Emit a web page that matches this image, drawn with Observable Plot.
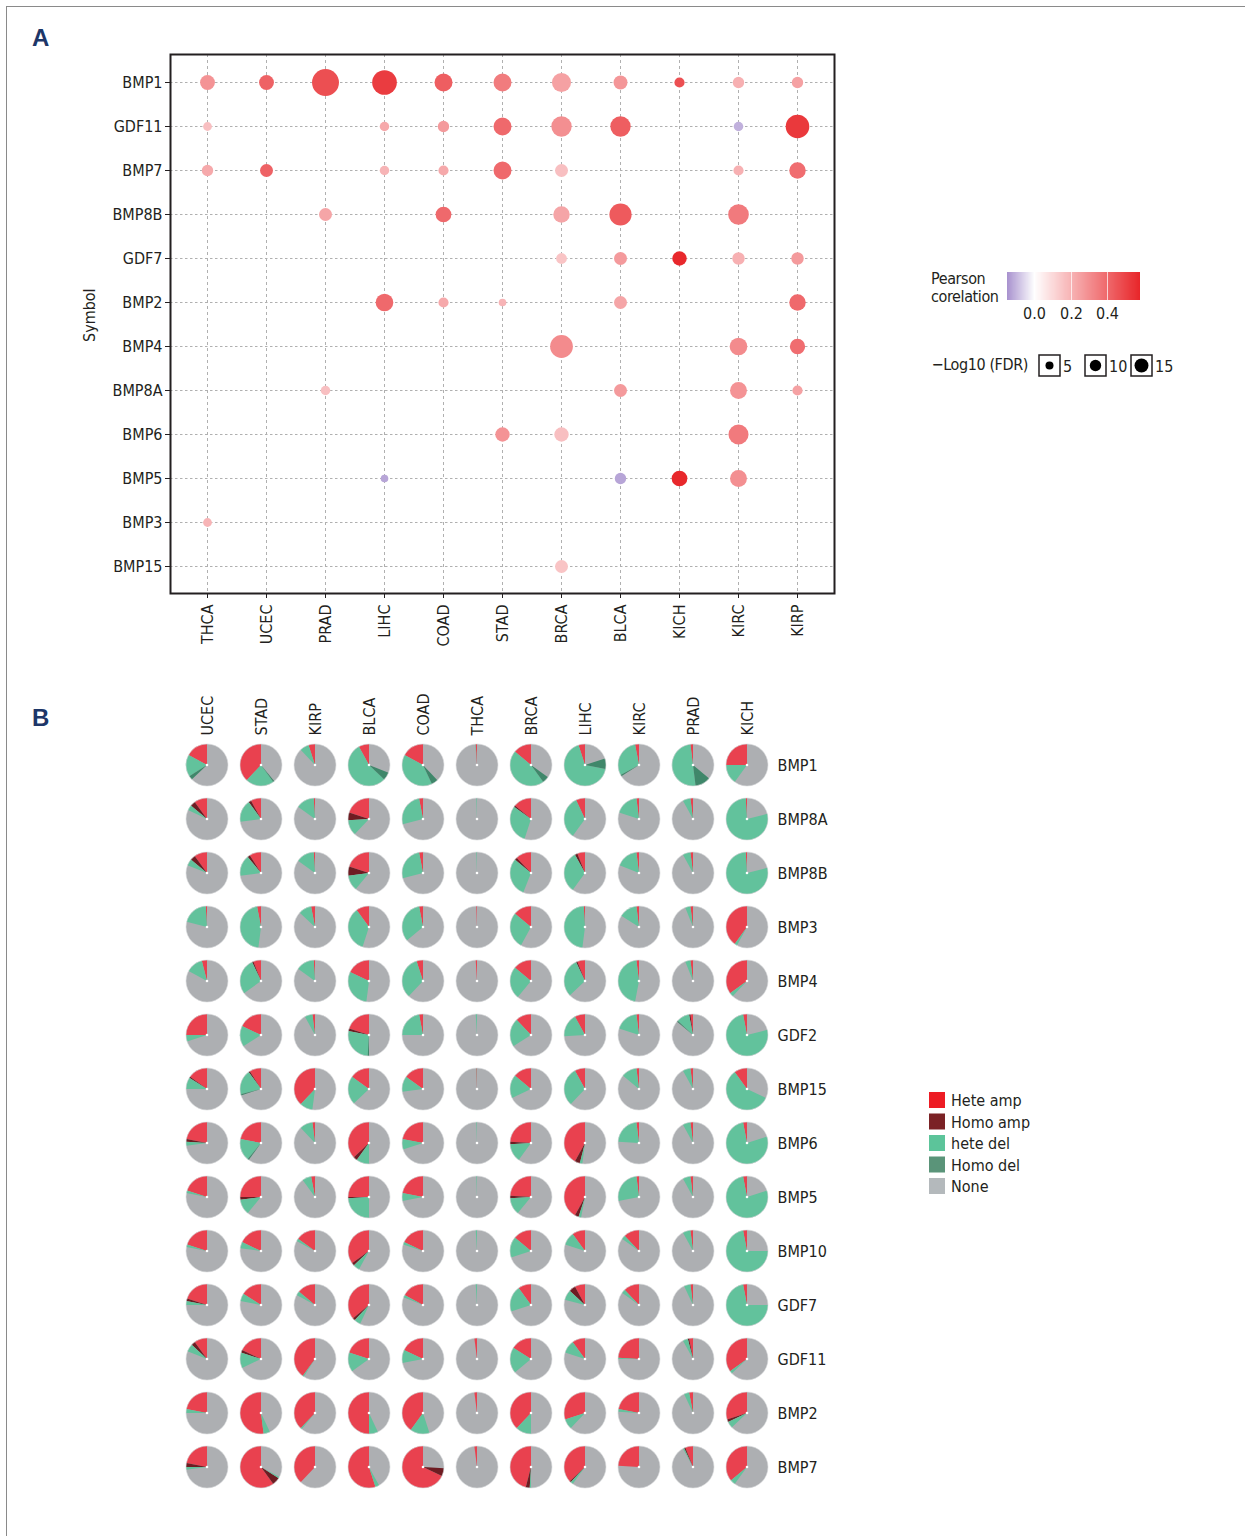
<!DOCTYPE html>
<html><head><meta charset="utf-8">
<script src="https://cdn.jsdelivr.net/npm/d3@7"></script>
<script src="https://cdn.jsdelivr.net/npm/@observablehq/plot@0.6"></script>
<style>
body{margin:0;background:#fff;}
#page{position:relative;width:1245px;height:1536px;overflow:hidden;font-family:"Liberation Sans Narrow","DejaVu Sans Condensed",sans-serif;color:#231f20;}
</style></head><body><div id="page"></div>
<script>
// ---------- Panel A data ----------
const cancersA = ["THCA","UCEC","PRAD","LIHC","COAD","STAD","BRCA","BLCA","KICH","KIRC","KIRP"];
const genesA = ["BMP1","GDF11","BMP7","BMP8B","GDF7","BMP2","BMP4","BMP8A","BMP6","BMP5","BMP3","BMP15"];
const pointGene = [
  "BMP1","BMP1","BMP1","BMP1","BMP1","BMP1","BMP1","BMP1","BMP1","BMP1","BMP1",
  "GDF11","GDF11","GDF11","GDF11","GDF11","GDF11","GDF11","GDF11",
  "BMP7","BMP7","BMP7","BMP7","BMP7","BMP7","BMP7","BMP7",
  "BMP8B","BMP8B","BMP8B","BMP8B","BMP8B",
  "GDF7","GDF7","GDF7","GDF7","GDF7",
  "BMP2","BMP2","BMP2","BMP2","BMP2",
  "BMP4","BMP4","BMP4",
  "BMP8A","BMP8A","BMP8A","BMP8A",
  "BMP6","BMP6","BMP6",
  "BMP5","BMP5","BMP5","BMP5",
  "BMP3",
  "BMP15"];
const pointCancer = [
  "THCA","UCEC","PRAD","LIHC","COAD","STAD","BRCA","BLCA","KICH","KIRC","KIRP",
  "THCA","LIHC","COAD","STAD","BRCA","BLCA","KIRC","KIRP",
  "THCA","UCEC","LIHC","COAD","STAD","BRCA","KIRC","KIRP",
  "PRAD","COAD","BRCA","BLCA","KIRC",
  "BRCA","BLCA","KICH","KIRC","KIRP",
  "LIHC","COAD","STAD","BLCA","KIRP",
  "BRCA","KIRC","KIRP",
  "PRAD","BLCA","KIRC","KIRP",
  "STAD","BRCA","KIRC",
  "LIHC","BLCA","KICH","KIRC",
  "THCA",
  "BRCA"];
const pointCor = [
  0.29,0.42,0.47,0.52,0.43,0.35,0.25,0.28,0.47,0.21,0.25,
  0.17,0.23,0.27,0.40,0.30,0.43,-0.11,0.53,
  0.23,0.42,0.20,0.23,0.40,0.17,0.21,0.39,
  0.24,0.40,0.24,0.44,0.355,
  0.157,0.27,0.575,0.21,0.27,
  0.40,0.23,0.20,0.24,0.40,
  0.31,0.31,0.39,
  0.17,0.27,0.29,0.25,
  0.29,0.17,0.355,
  -0.125,-0.125,0.575,0.30,
  0.20,
  0.157];
const pointLogFdr = [
  17,17,56,47,25,25,28,15,8,10,10,
  6,7,10,25,32,32,7,43,
  10,13,7,8,25,13,8,21,
  13,19,21,38,33,
  9,13,16,12,12,
  24,8,4.5,13,21,
  40,24,18,
  7,13,22,8,
  16,16,31,
  4.5,10,19,22,
  6,
  13];
const corTicks = [0, 0.2, 0.4];
const fdrLegendValues = [5, 10, 15];

// ---------- Panel B data ----------
const cancersB = ["UCEC","STAD","KIRP","BLCA","COAD","THCA","BRCA","LIHC","KIRC","PRAD","KICH"];
const genesB = ["BMP1","BMP8A","BMP8B","BMP3","BMP4","GDF2","BMP15","BMP6","BMP5","BMP10","GDF7","GDF11","BMP2","BMP7"];
const cnvTypes = ["Hete amp","Homo amp","hete del","Homo del","None"];
const heteAmp = [
  [0.17,0.38,0.05,0.08,0.17,0.01,0.14,0.05,0.03,0.02,0.25],
  [0.10,0.08,0.01,0.20,0.03,0,0.14,0.07,0.02,0.02,0.01],
  [0.10,0.09,0.01,0.20,0.03,0,0.12,0.06,0.02,0.02,0.01],
  [0.01,0.03,0.03,0.10,0.03,0.005,0.14,0.01,0.02,0.02,0.40],
  [0.04,0.06,0.01,0.18,0.05,0.01,0.14,0.06,0.02,0.02,0.35],
  [0.25,0.18,0.02,0.20,0.03,0,0.12,0.08,0.02,0.02,0.03],
  [0.15,0.09,0.38,0.15,0.15,0.005,0.14,0.08,0.02,0.02,0.10],
  [0.22,0.22,0.02,0.37,0.22,0,0.24,0.42,0.02,0.02,0.03],
  [0.20,0.25,0.03,0.25,0.22,0,0.24,0.42,0.02,0.02,0.03],
  [0.20,0.18,0.15,0.35,0.18,0,0.14,0.10,0.12,0.02,0.03],
  [0.20,0.16,0.14,0.36,0.17,0,0.10,0.08,0.12,0.02,0.03],
  [0.10,0.18,0.40,0.20,0.18,0.02,0.16,0.10,0.24,0.03,0.35],
  [0.22,0.52,0.38,0.50,0.40,0.02,0.38,0.30,0.22,0.03,0.30],
  [0.22,0.60,0.38,0.55,0.68,0.02,0.46,0.37,0.24,0.06,0.36]];
const homoAmp = [
  [0,0,0,0,0,0,0,0,0,0,0],
  [0.04,0.02,0,0.06,0,0,0.01,0,0,0,0],
  [0.04,0.02,0,0.07,0,0,0.02,0.02,0,0,0],
  [0,0,0,0,0,0,0,0,0,0,0],
  [0,0.01,0,0,0,0,0,0.01,0,0,0],
  [0,0,0,0.02,0,0,0,0,0,0.01,0],
  [0.01,0.01,0,0,0,0,0,0,0,0,0],
  [0.02,0,0,0.03,0,0,0.02,0.04,0,0,0],
  [0,0.02,0,0.01,0,0,0.02,0.03,0,0,0],
  [0,0,0,0.02,0,0,0,0,0,0,0],
  [0.02,0,0,0.02,0,0,0,0.05,0,0,0],
  [0.03,0.02,0,0,0,0,0,0,0,0.01,0],
  [0,0,0,0,0,0,0,0,0,0,0.02],
  [0.03,0.06,0,0,0.06,0,0.03,0.01,0,0.01,0]];
const heteDel = [
  [0.17,0.22,0.07,0.55,0.40,0.003,0.46,0.67,0.30,0.50,0.15],
  [0.04,0.17,0.14,0.12,0.26,0.005,0.30,0.33,0.18,0.06,0.78],
  [0.05,0.16,0.14,0.12,0.26,0.005,0.30,0.32,0.17,0.06,0.78],
  [0.20,0.45,0.10,0.35,0.33,0,0.28,0.47,0.14,0.04,0.02],
  [0.13,0.28,0.14,0.30,0.33,0,0.25,0.30,0.45,0.04,0.03],
  [0.05,0.16,0.06,0.27,0.22,0.01,0.22,0.18,0.18,0.10,0.76],
  [0.09,0.19,0.10,0.22,0.12,0.003,0.18,0.30,0.12,0.06,0.58],
  [0.03,0.17,0.10,0.10,0.08,0.005,0.14,0.02,0.22,0.06,0.77],
  [0.02,0.12,0.07,0.24,0.06,0.005,0.13,0.02,0.26,0.06,0.77],
  [0.02,0.05,0.02,0.05,0.02,0.01,0.16,0.10,0.03,0.06,0.72],
  [0.03,0.06,0.03,0.05,0.02,0.01,0.20,0.08,0.03,0.05,0.72],
  [0.06,0.12,0.01,0.15,0.10,0,0.20,0.10,0.01,0.04,0.02],
  [0.03,0.05,0.01,0.07,0.15,0,0.12,0.08,0.02,0.04,0.05],
  [0.02,0.01,0,0.03,0,0,0.01,0.02,0,0.01,0.04]];
const homoDel = [
  [0.03,0.01,0,0.06,0.05,0,0.05,0.08,0.01,0.12,0],
  [0,0,0,0,0,0,0,0,0,0,0],
  [0,0,0,0,0,0,0,0,0,0,0],
  [0,0,0,0,0,0,0,0,0,0,0],
  [0,0,0,0,0,0,0,0,0,0,0],
  [0,0,0,0.01,0,0,0,0,0,0.01,0],
  [0,0.01,0,0,0,0,0,0,0,0,0],
  [0,0.01,0,0,0,0,0,0,0,0,0],
  [0,0,0,0,0,0,0,0,0,0,0],
  [0,0,0,0,0,0,0,0,0,0,0],
  [0,0,0,0,0,0,0,0,0,0,0],
  [0,0,0,0,0,0,0,0,0,0,0],
  [0,0,0,0,0,0,0,0,0,0,0],
  [0,0,0,0,0,0,0,0,0,0,0]];

// ---------- styles ----------
const FONT = '"Liberation Sans Narrow","DejaVu Sans Condensed",sans-serif';
const FS = 16;
const INK = "#231f20";
const pieColors = ["#e9414f","#6e1c22","#62c29c","#3f876a","#adafb2"];
const legendColors = ["#ed1c24","#7b2225","#5cc49a","#5a9479","#b4b9bc"];
const corInterp = t => {
  const v = -0.15 + t * 0.73;
  return v < 0 ? d3.interpolateRgb("#ffffff", "#a993cf")(-v / 0.15)
               : d3.interpolateRgb("#ffffff", "#e8262a")(v / 0.58);
};
const colorOpts = {type: "linear", domain: [-0.15, 0.58], interpolate: corInterp};

const page = document.getElementById("page");
function place(el, left, top) {
  el.style.position = "absolute"; el.style.left = left + "px"; el.style.top = top + "px";
  page.appendChild(el); return el;
}
function textDiv(txt, left, top, css) {
  const d = document.createElement("div");
  d.textContent = txt; d.style.cssText = css || "";
  d.style.whiteSpace = "pre"; return place(d, left, top);
}

// figure border
const border = document.createElement("div");
border.style.cssText = "width:1300px;height:1600px;border-top:1px solid #8a8a8a;border-left:1px solid #8a8a8a;";
place(border, 6, 6);

// ---------- Panel A ----------
const dotsA = pointGene.map((g, i) => ({gene: g, cancer: pointCancer[i], cor: pointCor[i], fdr: pointLogFdr[i]}));
const plotA = Plot.plot({
  width: 900, height: 660,
  marginLeft: 170, marginTop: 54, marginRight: 66, marginBottom: 67,
  style: {fontFamily: FONT, fontSize: FS + "px", color: INK, background: "transparent"},
  x: {type: "point", domain: cancersA, padding: 0.6, label: null},
  y: {type: "point", domain: genesA, padding: 0.61, label: null},
  color: colorOpts,
  r: {type: "sqrt", domain: [0, 60], range: [0, 1.8 * Math.sqrt(60)]},
  marks: [
    Plot.gridX({stroke: "#b0b0b0", strokeOpacity: 1, strokeDasharray: "3,3"}),
    Plot.gridY({stroke: "#b0b0b0", strokeOpacity: 1, strokeDasharray: "2.5,2.5"}),
    Plot.dot(dotsA, {x: "cancer", y: "gene", r: "fdr", fill: "cor"}),
    Plot.frame({stroke: INK, strokeWidth: 2}),
    Plot.axisY({tickSize: 5, tickPadding: 3, label: null, fontSize: FS}),
    Plot.axisX({tickSize: 5, tickPadding: 6, tickRotate: -90, label: null, fontSize: FS})
  ]
});
place(plotA, 0, 0);

const panelCss = "font-family:'Liberation Sans',Arial,sans-serif;font-weight:bold;font-size:24px;color:#1d3668;";
textDiv("A", 32, 24, panelCss);
textDiv("B", 32, 704, panelCss);

const sym = textDiv("Symbol", 0, 0, `font-family:${FONT};font-size:${FS}px;color:${INK};transform-origin:0 0;transform:rotate(-90deg);line-height:1;`);
sym.style.left = "82px"; sym.style.top = "342px";

// color legend
textDiv("Pearson\ncorelation", 931, 270, `font-family:${FONT};font-size:${FS}px;letter-spacing:-0.4px;color:${INK};line-height:18px;`);
const ramp = Plot.legend({
  color: colorOpts, legend: "ramp", label: null,
  width: 133, height: 52, marginTop: 0, marginLeft: 0, marginRight: 0, marginBottom: 24,
  ticks: corTicks, tickFormat: d3.format(".1f"), tickSize: 0,
  style: {fontFamily: FONT, fontSize: FS + "px", color: INK, background: "transparent", overflow: "visible"}
});
d3.select(ramp).selectAll(".tick line").attr("stroke", "#fff").attr("stroke-opacity", 0.7);
d3.select(ramp).selectAll(".tick text").attr("dy", "1em");
place(ramp, 1007, 272);

// size legend
const rScale = plotA.scale("r");
const fdrTitle = textDiv("\u2212Log10 (FDR)", 880, 355, `font-family:${FONT};font-size:${FS}px;letter-spacing:-0.4px;color:${INK};line-height:20px;width:148px;text-align:right;`);
const sizeSvg = d3.create("svg").attr("width", 150).attr("height", 30)
  .style("font-family", FONT).style("font-size", FS + "px").style("overflow", "visible");
const boxX = [0, 46, 92];
fdrLegendValues.forEach((v, i) => {
  const g = sizeSvg.append("g").attr("transform", `translate(${boxX[i]},0)`);
  g.append("rect").attr("x", 1).attr("y", 1).attr("width", 21).attr("height", 21).attr("fill", "#fff").attr("stroke", INK).attr("stroke-width", 1.5);
  g.append("circle").attr("cx", 11.5).attr("cy", 11.5).attr("r", rScale.apply(v)).attr("fill", "#000");
  g.append("text").attr("x", 25).attr("y", 18).attr("fill", INK).text(v);
});
place(sizeSvg.node(), 1038, 354);

// ---------- Panel B ----------
const cells = [];
genesB.forEach((g, gi) => cancersB.forEach((c, ci) => {
  cells.push({gene: g, cancer: c, f: [heteAmp[gi][ci], homoAmp[gi][ci], heteDel[gi][ci], homoDel[gi][ci]]});
}));
const PIE_R = 21;
const plotB = Plot.plot({
  width: 900, height: 830,
  marginLeft: 205, marginRight: 151, marginTop: 83, marginBottom: 41,
  style: {fontFamily: FONT, fontSize: FS + "px", color: INK, background: "transparent"},
  x: {type: "point", domain: cancersB, padding: 0, label: null},
  y: {type: "point", domain: genesB, padding: 0, label: null},
  marks: [
    Plot.dot(cells, {
      x: "cancer", y: "gene", r: PIE_R,
      render(index, scales, values) {
        const g = d3.create("svg:g");
        const arc = d3.arc().innerRadius(0).outerRadius(PIE_R);
        for (const i of index) {
          const gg = g.append("g").attr("transform", `translate(${values.x[i]},${values.y[i]})`);
          gg.append("circle").attr("r", PIE_R).attr("fill", pieColors[4]);
          let a = 0;
          cells[i].f.forEach((v, k) => {
            if (v > 0) {
              gg.append("path")
                .attr("d", arc({startAngle: -(a + v) * 2 * Math.PI, endAngle: -a * 2 * Math.PI}))
                .attr("fill", pieColors[k]);
            }
            a += v;
          });
          gg.append("circle").attr("r", PIE_R).attr("fill", "none").attr("stroke", "#d9dadb").attr("stroke-width", 0.6);
          gg.append("circle").attr("r", 1.3).attr("fill", "#fff");
        }
        return g.node();
      }
    }),
    Plot.axisX({anchor: "top", tickSize: 0, tickPadding: 28, tickRotate: -90, label: null, fontSize: FS}),
    Plot.axisY({anchor: "right", tickSize: 0, tickPadding: 28, label: null, fontSize: FS})
  ]
});
place(plotB, 0, 680);

// pie legend
const legB = d3.create("svg").attr("width", 150).attr("height", 115)
  .style("font-family", FONT).style("font-size", FS + "px");
cnvTypes.forEach((t, i) => {
  legB.append("rect").attr("x", 0).attr("y", i * 21.5).attr("width", 16).attr("height", 16).attr("fill", legendColors[i]);
  legB.append("text").attr("x", 22).attr("y", i * 21.5 + 14).attr("fill", INK).text(t);
});
place(legB.node(), 929, 1092);
</script></body></html>
